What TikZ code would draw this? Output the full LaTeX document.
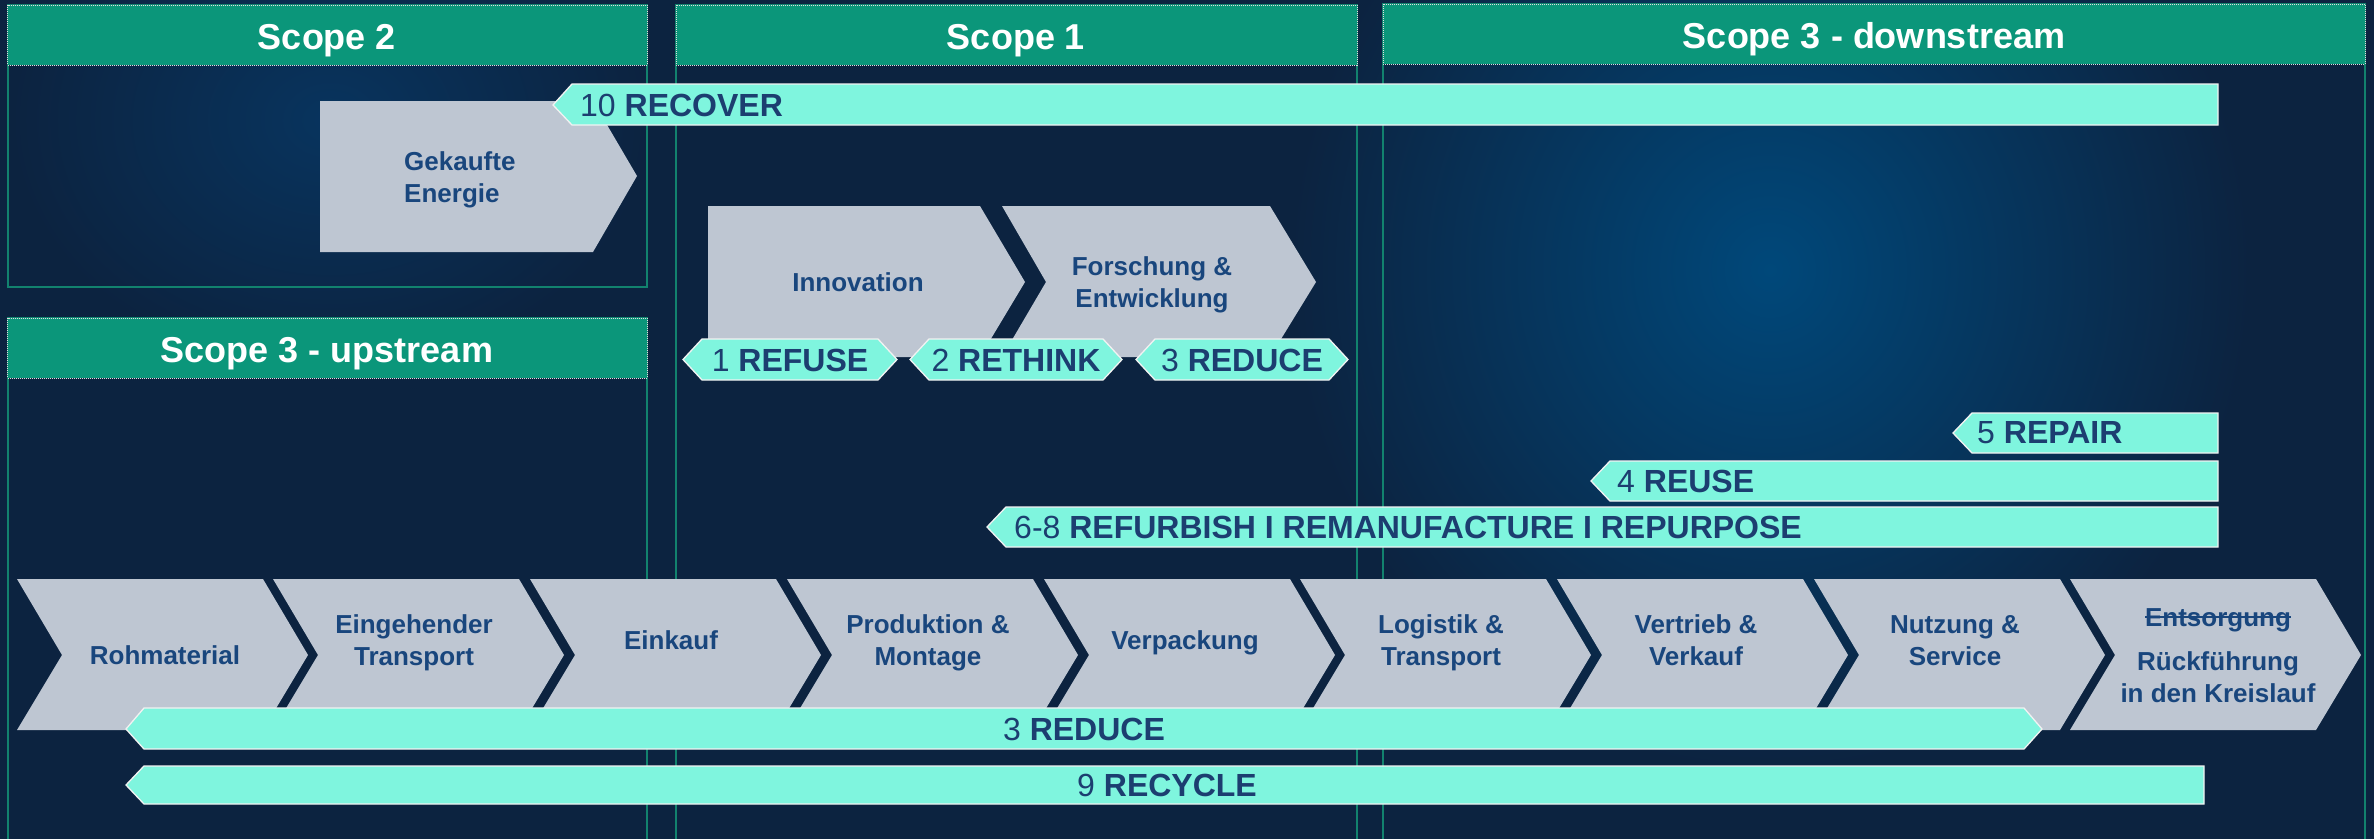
\documentclass[tikz,border=0pt]{standalone}
\usepackage{fontspec}
\setmainfont{Liberation Sans}
\definecolor{bgc}{RGB}{12,35,64}
\definecolor{glowc}{RGB}{0,72,122}
\definecolor{glow2}{RGB}{8,52,94}
\definecolor{hdrc}{RGB}{11,150,122}
\definecolor{boxc}{RGB}{18,130,110}
\definecolor{chevc}{RGB}{190,198,210}
\definecolor{chevtxtc}{RGB}{25,70,125}
\definecolor{barc}{RGB}{127,245,222}
\definecolor{bartxtc}{RGB}{28,62,112}
\newcommand\ml[1]{\begin{tabular}[t]{@{}c@{}}#1\end{tabular}}
\newcommand\mll[1]{\begin{tabular}[t]{@{}l@{}}#1\end{tabular}}
\newcommand\strikeword[1]{\setbox0\hbox{#1}\rlap{\rule[0.3em]{\wd0}{2pt}}\box0}
\tikzset{
  chev/.style={fill=chevc, draw=none},
  chevtxt/.style={text=chevtxtc, font=\fontsize{26}{32}\selectfont\bfseries, inner sep=0pt, anchor=base},
  bar/.style={fill=barc, draw=white!90!gray, line width=1.3pt},
  bartxt/.style={text=bartxtc, font=\fontsize{32}{38}\selectfont, inner sep=0pt},
  hdr/.style={fill=hdrc, draw=white!75!gray, densely dotted, line width=1pt},
  scopebox/.style={draw=boxc, line width=2pt},
  hdrtxt/.style={text=white, font=\fontsize{36}{42}\selectfont\bfseries, anchor=base, inner sep=0pt}
}
\newcommand\chainchev[1]{\fill[chev] (#1,579) -- ++(246,0) -- ++(45,76) -- ++(-45,75) -- ++(-246,0) -- ++(45,-75) -- cycle;}
\begin{document}
\begin{tikzpicture}[x=1pt,y=-1pt]
\useasboundingbox (0,0) rectangle (2374,838);
\begin{scope}
\clip (0,0) rectangle (2374,838);
\fill[bgc] (-5,-5) rectangle (2380,845);
\shade[inner color=glowc, outer color=bgc] (1770,270) ellipse (480 and 500);
\shade[inner color=glow2, outer color=bgc] (330,120) ellipse (320 and 250);
\end{scope}

% scope boxes
\draw[scopebox] (7.6,5) rectangle (647,287);
\draw[scopebox] (7.6,318) rectangle (647,850);
\draw[scopebox] (676,5) rectangle (1357,850);
\draw[scopebox] (1383,4) rectangle (2365,850);
\draw[hdr] (7.6,5) rectangle (647,65);
\draw[hdr] (7.6,318) rectangle (647,378);
\draw[hdr] (676,5) rectangle (1357,65);
\draw[hdr] (1383,4) rectangle (2365,64);
\node[hdrtxt] (s2) at (327,49) {Scope 2};
\node[hdrtxt] (s3u) at (327,362) {Scope 3 - upstream};
\node[hdrtxt] (s1) at (1016,49) {Scope 1};
\node[hdrtxt] (s3d) at (1874,48) {Scope 3 - downstream};

% scope 2 / scope 1 shapes
\fill[chev] (320,101) -- (593,101) -- (637,176) -- (593,252) -- (320,252) -- cycle;
\node[chevtxt, anchor=base west] (energie) at (404,170) {\mll{Gekaufte\\Energie}};
\fill[chev] (708,206) -- (980,206) -- (1025,282) -- (980,357) -- (708,357) -- cycle;
\fill[chev] (1002,206) -- (1270,206) -- (1316,282) -- (1270,357) -- (1002,357) -- (1046,282) -- cycle;
\node[chevtxt] (innov) at (858,291) {Innovation};
\node[chevtxt] (fue) at (1152,275) {\ml{Forschung \&\\Entwicklung}};

% labels
\path[bar] (683,359.5) -- (702,339) -- (878,339) -- (897,359.5) -- (878,380) -- (702,380) -- cycle;
\path[bar] (910,359.5) -- (929,339) -- (1103,339) -- (1122,359.5) -- (1103,380) -- (929,380) -- cycle;
\path[bar] (1136,359.5) -- (1155,339) -- (1329,339) -- (1348,359.5) -- (1329,380) -- (1155,380) -- cycle;
\node[bartxt] (refuse) at (790,360) {1 \textbf{REFUSE}};
\node[bartxt] (rethink) at (1016,360) {2 \textbf{RETHINK}};
\node[bartxt] (reduce1) at (1242,360) {3 \textbf{REDUCE}};

% main chain
\chainchev{17}
\chainchev{273}
\chainchev{530}
\chainchev{787}
\chainchev{1044}
\chainchev{1300}
\chainchev{1557}
\chainchev{1814}
\chainchev{2070}
\node[chevtxt] (roh) at (165,664) {Rohmaterial};
\node[chevtxt] (eing) at (414,633) {\ml{Eingehender\\Transport}};
\node[chevtxt] (eink) at (671,649) {Einkauf};
\node[chevtxt] (prod) at (928,633) {\ml{Produktion \&\\Montage}};
\node[chevtxt] (verp) at (1185,649) {Verpackung};
\node[chevtxt] (logi) at (1441,633) {\ml{Logistik \&\\Transport}};
\node[chevtxt] (vert) at (1696,633) {\ml{Vertrieb \&\\Verkauf}};
\node[chevtxt] (nutz) at (1955,633) {\ml{Nutzung \&\\Service}};
\node[chevtxt] (ents) at (2218,626) {\ml{\strikeword{Entsorgung}\\[12pt]R\"uckf\"uhrung\\in den Kreislauf}};

% bars
\path[bar] (553,105) -- (572,84) -- (2218,84) -- (2218,125) -- (572,125) -- cycle;
\node[bartxt, anchor=west] (recover) at (580,105) {10 \textbf{RECOVER}};
\path[bar] (1953,433) -- (1972,413) -- (2218,413) -- (2218,453) -- (1972,453) -- cycle;
\node[bartxt, anchor=west] (repair) at (1977,433) {5 \textbf{REPAIR}};
\path[bar] (1591,481) -- (1610,461) -- (2218,461) -- (2218,501) -- (1610,501) -- cycle;
\node[bartxt, anchor=west] (reuse) at (1617,481) {4 \textbf{REUSE}};
\path[bar] (987,527) -- (1006,507) -- (2218,507) -- (2218,547) -- (1006,547) -- cycle;
\node[bartxt, anchor=west] (refurb) at (1014,527) {6-8 \textbf{REFURBISH I REMANUFACTURE I REPURPOSE}};
\path[bar] (126,729) -- (144,708) -- (2024,708) -- (2042,729) -- (2024,749) -- (144,749) -- cycle;
\node[bartxt] (reduce2) at (1084,729) {3 \textbf{REDUCE}};
\path[bar] (126,785) -- (144,766) -- (2204,766) -- (2204,804) -- (144,804) -- cycle;
\node[bartxt] (recycle) at (1167,785) {9 \textbf{RECYCLE}};
\end{tikzpicture}
\end{document}
